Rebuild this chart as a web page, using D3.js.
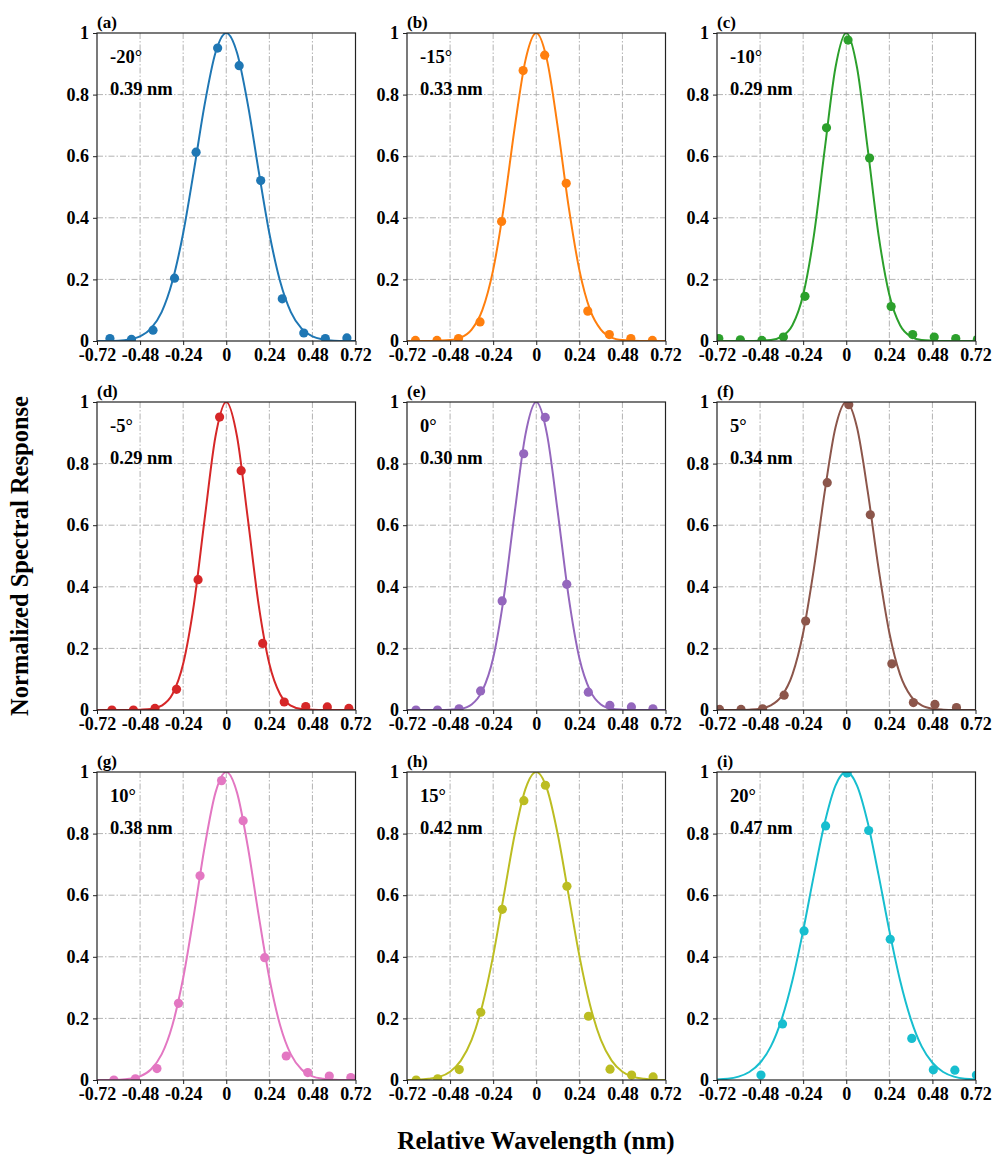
<!DOCTYPE html>
<html>
<head>
<meta charset="utf-8">
<script src="https://cdn.jsdelivr.net/npm/d3@7"></script>
<style>
  body { margin: 0; background: #fff; }
  text { font-family: "Liberation Serif", "Times New Roman", serif; font-weight: bold; }
</style>
</head>
<body>
<script>
// panel texts
const panelLabels = ["(a)", "(b)", "(c)", "(d)", "(e)", "(f)", "(g)", "(h)", "(i)"];
const angles = ["-20°", "-15°", "-10°", "-5°", "0°", "5°", "10°", "15°", "20°"];
const widths = ["0.39 nm", "0.33 nm", "0.29 nm", "0.29 nm", "0.30 nm", "0.34 nm", "0.38 nm", "0.42 nm", "0.47 nm"];
const colors = ["#1f77b4", "#ff7f0e", "#2ca02c", "#d62728", "#9467bd", "#8c564b", "#e377c2", "#bcbd22", "#17becf"];

const xTicks = [-0.72, -0.48, -0.24, 0, 0.24, 0.48, 0.72];
const xTickLabels = ["-0.72", "-0.48", "-0.24", "0", "0.24", "0.48", "0.72"];
const yTicks = [0, 0.2, 0.4, 0.6, 0.8, 1];
const yTickLabels = ["0", "0.2", "0.4", "0.6", "0.8", "1"];

const xA = [-0.648, -0.528, -0.408, -0.288, -0.168, -0.048, 0.072, 0.192, 0.312, 0.432, 0.552, 0.672];
const yA = [0.008, 0.005, 0.035, 0.204, 0.613, 0.951, 0.894, 0.521, 0.137, 0.026, 0.008, 0.010];
const xB = [-0.673, -0.553, -0.433, -0.313, -0.193, -0.073, 0.047, 0.167, 0.287, 0.407, 0.527, 0.647];
const yB = [0.002, 0.002, 0.008, 0.062, 0.388, 0.878, 0.928, 0.512, 0.097, 0.021, 0.008, 0.002];
const xC = [-0.71, -0.59, -0.47, -0.35, -0.23, -0.11, 0.01, 0.13, 0.25, 0.37, 0.49, 0.61, 0.73];
const yC = [0.008, 0.004, 0.002, 0.013, 0.145, 0.692, 0.977, 0.594, 0.112, 0.021, 0.013, 0.008, 0.005];
const xD = [-0.637, -0.517, -0.397, -0.277, -0.157, -0.037, 0.083, 0.203, 0.323, 0.443, 0.563, 0.683];
const yD = [0.0, 0.0, 0.005, 0.067, 0.423, 0.951, 0.777, 0.216, 0.026, 0.011, 0.010, 0.005];
const xE = [-0.67, -0.55, -0.43, -0.31, -0.19, -0.07, 0.05, 0.17, 0.29, 0.41, 0.53, 0.65];
const yE = [0.0, 0.0, 0.004, 0.062, 0.354, 0.832, 0.950, 0.408, 0.058, 0.015, 0.010, 0.004];
const xF = [-0.706, -0.586, -0.466, -0.346, -0.226, -0.106, 0.014, 0.134, 0.254, 0.374, 0.494, 0.614];
const yF = [0.002, 0.002, 0.004, 0.048, 0.289, 0.738, 0.991, 0.634, 0.150, 0.024, 0.018, 0.008];
const xG = [-0.626, -0.506, -0.386, -0.266, -0.146, -0.026, 0.094, 0.214, 0.334, 0.454, 0.574, 0.694];
const yG = [0.0, 0.004, 0.037, 0.249, 0.663, 0.972, 0.842, 0.397, 0.078, 0.024, 0.013, 0.008];
const xH = [-0.669, -0.549, -0.429, -0.309, -0.189, -0.069, 0.051, 0.171, 0.291, 0.411, 0.531, 0.651];
const yH = [0.0, 0.004, 0.034, 0.220, 0.554, 0.907, 0.957, 0.629, 0.207, 0.035, 0.016, 0.010];
const xI = [-0.475, -0.355, -0.235, -0.115, 0.005, 0.125, 0.245, 0.365, 0.485, 0.605, 0.725];
const yI = [0.016, 0.182, 0.484, 0.825, 0.997, 0.810, 0.457, 0.135, 0.033, 0.032, 0.016];

// fitted curves at these wavelengths
const fitX = [-0.72, -0.66, -0.60, -0.54, -0.48, -0.42, -0.36, -0.30, -0.24, -0.18, -0.12, -0.06, 0,
              0.06, 0.12, 0.18, 0.24, 0.30, 0.36, 0.42, 0.48, 0.54, 0.60, 0.66, 0.72];
const fitA = [0, 0, 0.001, 0.005, 0.015, 0.040, 0.094, 0.194, 0.350, 0.554, 0.769, 0.936, 1,
              0.936, 0.769, 0.554, 0.350, 0.194, 0.094, 0.040, 0.015, 0.005, 0.001, 0, 0];
const fitB = [0, 0, 0, 0.001, 0.003, 0.011, 0.037, 0.101, 0.231, 0.438, 0.693, 0.912, 1,
              0.912, 0.693, 0.438, 0.231, 0.101, 0.037, 0.011, 0.003, 0.001, 0, 0, 0];
const fitC = [0, 0, 0, 0, 0.001, 0.003, 0.014, 0.051, 0.150, 0.344, 0.622, 0.888, 1,
              0.888, 0.622, 0.344, 0.150, 0.051, 0.014, 0.003, 0.001, 0, 0, 0, 0];
const fitD = [0, 0, 0, 0, 0.001, 0.003, 0.014, 0.051, 0.150, 0.344, 0.622, 0.888, 1,
              0.888, 0.622, 0.344, 0.150, 0.051, 0.014, 0.003, 0.001, 0, 0, 0, 0];
const fitE = [0, 0, 0, 0, 0.001, 0.004, 0.018, 0.063, 0.169, 0.369, 0.642, 0.895, 1,
              0.895, 0.642, 0.369, 0.169, 0.063, 0.018, 0.004, 0.001, 0, 0, 0, 0];
const fitF = [0, 0, 0, 0.001, 0.004, 0.015, 0.045, 0.115, 0.251, 0.460, 0.708, 0.917, 1,
              0.917, 0.708, 0.460, 0.251, 0.115, 0.045, 0.015, 0.004, 0.001, 0, 0, 0];
const fitG = [0, 0, 0.001, 0.004, 0.012, 0.034, 0.083, 0.178, 0.331, 0.537, 0.758, 0.933, 1,
              0.933, 0.758, 0.537, 0.331, 0.178, 0.083, 0.034, 0.012, 0.004, 0.001, 0, 0];
const fitH = [0, 0.001, 0.004, 0.010, 0.027, 0.063, 0.130, 0.243, 0.404, 0.601, 0.797, 0.945, 1,
              0.945, 0.797, 0.601, 0.404, 0.243, 0.130, 0.063, 0.027, 0.010, 0.004, 0.001, 0];
const fitI = [0.002, 0.004, 0.011, 0.026, 0.056, 0.109, 0.197, 0.323, 0.485, 0.666, 0.835, 0.956, 1,
              0.956, 0.835, 0.666, 0.485, 0.323, 0.197, 0.109, 0.056, 0.026, 0.011, 0.004, 0.002];

const measX = [xA, xB, xC, xD, xE, xF, xG, xH, xI];
const measY = [yA, yB, yC, yD, yE, yF, yG, yH, yI];
const fits = [fitA, fitB, fitC, fitD, fitE, fitF, fitG, fitH, fitI];

const W = 994, H = 1168;
const colLeft = [97, 407, 717];
const rowTop = [33, 402, 772];
const pw = 258.5, ph = 308;

const svg = d3.select("body").append("svg")
    .attr("width", W)
    .attr("height", H);

const x = d3.scaleLinear().domain([-0.72, 0.72]).range([0, pw]);
const y = d3.scaleLinear().domain([0, 1]).range([ph, 0]);

const line = d3.line()
    .x(d => x(d[0]))
    .y(d => y(d[1]))
    .curve(d3.curveMonotoneX);

for (let i = 0; i < 9; i++) {
    const g = svg.append("g")
        .attr("transform", "translate(" + colLeft[i % 3] + "," + rowTop[Math.floor(i / 3)] + ")");

    g.append("clipPath").attr("id", "clip" + i)
        .append("rect").attr("width", pw).attr("height", ph);

    // grid
    g.append("g").selectAll("line")
        .data(xTicks.slice(1, -1))
        .join("line")
        .attr("x1", d => x(d)).attr("x2", d => x(d))
        .attr("y1", 0).attr("y2", ph)
        .attr("stroke", "#b3b3b3").attr("stroke-width", 1)
        .attr("stroke-dasharray", "6,2,1.5,2");
    g.append("g").selectAll("line")
        .data(yTicks.slice(1, -1))
        .join("line")
        .attr("x1", 0).attr("x2", pw)
        .attr("y1", d => y(d)).attr("y2", d => y(d))
        .attr("stroke", "#b3b3b3").attr("stroke-width", 1)
        .attr("stroke-dasharray", "6,2,1.5,2");

    // axes
    const ax = g.append("g")
        .attr("transform", "translate(0," + ph + ")")
        .call(d3.axisBottom(x).tickValues(xTicks).tickFormat((d, k) => xTickLabels[k]).tickSize(4).tickPadding(3));
    const ay = g.append("g")
        .call(d3.axisLeft(y).tickValues(yTicks).tickFormat((d, k) => yTickLabels[k]).tickSize(4).tickPadding(4));
    [ax, ay].forEach(a => {
        a.select(".domain").remove();
        a.selectAll("line").attr("stroke", "#222");
        a.selectAll("text")
            .attr("fill", "#000")
            .style("font-family", "'Liberation Serif', serif")
            .style("font-weight", "bold")
            .style("font-size", "18px");
    });

    const plot = g.append("g").attr("clip-path", "url(#clip" + i + ")");

    plot.append("path")
        .datum(fitX.map((v, k) => [v, fits[i][k]]))
        .attr("fill", "none")
        .attr("stroke", colors[i])
        .attr("stroke-width", 2)
        .attr("d", line);

    plot.selectAll("circle")
        .data(measX[i].map((v, k) => [v, measY[i][k]]))
        .join("circle")
        .attr("cx", d => x(d[0]))
        .attr("cy", d => y(d[1]))
        .attr("r", 4.6)
        .attr("fill", colors[i]);

    // frame
    g.append("rect")
        .attr("width", pw).attr("height", ph)
        .attr("fill", "none")
        .attr("stroke", "#222")
        .attr("stroke-width", 1.2);

    g.append("text").attr("x", 0).attr("y", -5)
        .style("font-size", "17px")
        .text(panelLabels[i]);
    g.append("text").attr("x", 13).attr("y", 30)
        .style("font-size", "18.5px")
        .text(angles[i]);
    g.append("text").attr("x", 13).attr("y", 62)
        .style("font-size", "18.5px")
        .text(widths[i]);
}

svg.append("text")
    .attr("transform", "translate(28,556) rotate(-90)")
    .attr("text-anchor", "middle")
    .style("font-size", "24.5px")
    .text("Normalized Spectral Response");

svg.append("text")
    .attr("x", 536).attr("y", 1149)
    .attr("text-anchor", "middle")
    .style("font-size", "25px")
    .text("Relative Wavelength (nm)");
</script>
</body>
</html>
